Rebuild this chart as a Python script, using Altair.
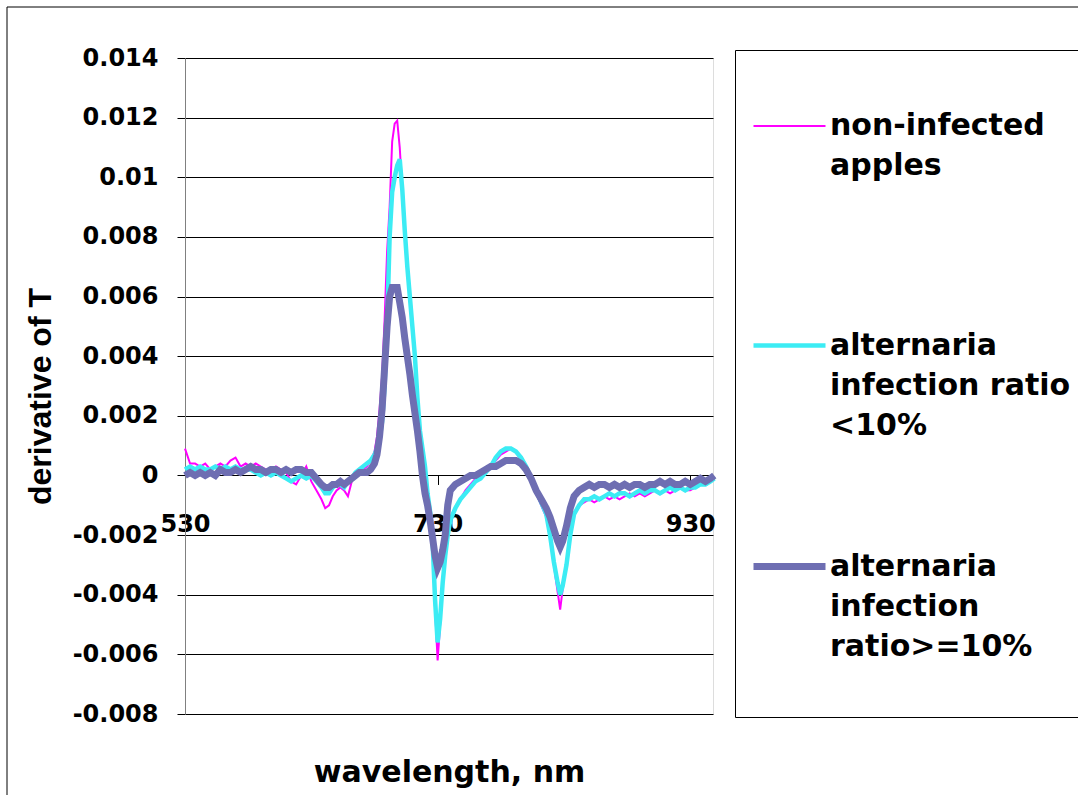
import altair as alt
import pandas as pd

# Wavelength samples (nm) shared by the three spectra
wavelength = [
    530, 534, 538, 542, 546, 550, 554, 558, 562, 566, 570, 574, 578, 582,
    586, 590, 594, 598, 602, 606, 610, 614, 618, 622, 626, 630, 634, 638,
    641, 644, 647, 650, 653, 656, 659, 662, 665, 668, 671, 674, 677, 680,
    682, 684, 686, 688, 690, 692, 694, 696, 698, 700, 702, 704, 706, 708,
    710, 712, 714, 716, 718, 720, 722, 724, 726, 728, 730, 732, 734, 736,
    738, 740,
    744, 748, 752, 756, 760, 764, 768, 772, 776, 780, 784, 788, 792, 796,
    800, 804, 808, 812, 816,
    819, 822, 825, 827, 829, 832, 835, 838, 842,
    846, 850, 854, 858, 862, 866, 870, 874, 878, 882, 886, 890, 894, 898,
    902, 906, 910, 914, 918, 922, 926, 930, 934, 938, 942, 946, 949,
]

# First derivative of transmittance, non-infected apples
non_infected = [
    0.0009, 0.0004, 0.0004, 0.0003, 0.0004, 0.0002, 0.0003, 0.0004, 0.0003, 0.0005, 0.0006, 0.0003, 0.0004, 0.0003,
    0.0004, 0.0003, 0.0002, 0.0002, 0.0003, 0.0002, 0.0001, -0.0002, -0.0003, 0.0000, 0.0003, -0.0002, -0.0005, -0.0008,
    -0.0011, -0.0010, -0.0007, -0.0005, -0.0004, -0.0005, -0.0007, -0.0002, 0.0000, 0.0001, 0.0002, 0.0003, 0.0005, 0.0008,
    0.0013, 0.0022, 0.0033, 0.0052, 0.0075, 0.0090, 0.0112, 0.0118, 0.0119, 0.0110, 0.0096, 0.0082, 0.0070, 0.0060,
    0.0050, 0.0040, 0.0027, 0.0016, 0.0009, 0.0002, -0.0007, -0.0014, -0.0025, -0.0045, -0.0062, -0.0050, -0.0037, -0.0027,
    -0.0020, -0.0015,
    -0.0011, -0.0008, -0.0005, -0.0003, -0.0001, 0.0000, 0.0002, 0.0003, 0.0005, 0.0007, 0.0008, 0.0009, 0.0008, 0.0005,
    0.0002, -0.0002, -0.0006, -0.0010, -0.0014,
    -0.0021, -0.0030, -0.0039, -0.0045, -0.0038, -0.0030, -0.0020, -0.0013, -0.0010,
    -0.0009, -0.0008, -0.0009, -0.0008, -0.0007, -0.0008, -0.0007, -0.0008, -0.0007, -0.0006, -0.0007, -0.0006, -0.0007, -0.0006,
    -0.0005, -0.0006, -0.0005, -0.0006, -0.0005, -0.0004, -0.0005, -0.0005, -0.0004, -0.0003, -0.0003, -0.0002, -0.0001,
]

# Alternaria infection ratio below 10 %
infection_low = [
    0.0002, 0.0003, 0.0002, 0.0003, 0.0002, 0.0002, 0.0003, 0.0002, 0.0003, 0.0002, 0.0003, 0.0002, 0.0002, 0.0002,
    0.0001, 0.0000, 0.0001, 0.0000, 0.0001, 0.0000, -0.0001, -0.0002, -0.0001, 0.0000, -0.0001, 0.0000, -0.0002, -0.0004,
    -0.0006, -0.0006, -0.0004, -0.0003, -0.0003, -0.0004, -0.0002, -0.0001, 0.0001, 0.0002, 0.0003, 0.0004, 0.0005, 0.0007,
    0.0009, 0.0012, 0.0018, 0.0030, 0.0050, 0.0080, 0.0095, 0.0100, 0.0104, 0.0106, 0.0096, 0.0082, 0.0070, 0.0060,
    0.0050, 0.0040, 0.0026, 0.0015, 0.0009, 0.0003, -0.0006, -0.0012, -0.0022, -0.0042, -0.0056, -0.0048, -0.0036, -0.0027,
    -0.0020, -0.0015,
    -0.0011, -0.0008, -0.0006, -0.0004, -0.0002, -0.0001, 0.0001, 0.0003, 0.0006, 0.0008, 0.0009, 0.0009, 0.0008, 0.0006,
    0.0003, -0.0001, -0.0005, -0.0009, -0.0013,
    -0.0020, -0.0029, -0.0036, -0.0040, -0.0037, -0.0030, -0.0020, -0.0013, -0.0010,
    -0.0008, -0.0008, -0.0007, -0.0008, -0.0007, -0.0006, -0.0007, -0.0006, -0.0006, -0.0007, -0.0006, -0.0005, -0.0006, -0.0005,
    -0.0005, -0.0006, -0.0005, -0.0004, -0.0005, -0.0004, -0.0005, -0.0004, -0.0004, -0.0003, -0.0003, -0.0002, -0.0001,
]

# Alternaria infection ratio of 10 % or more
infection_high = [
    0.0000, 0.0001, 0.0000, 0.0001, 0.0000, 0.0001, 0.0000, 0.0002, 0.0001, 0.0001, 0.0002, 0.0001, 0.0002, 0.0003,
    0.0002, 0.0002, 0.0001, 0.0002, 0.0002, 0.0001, 0.0002, 0.0001, 0.0002, 0.0002, 0.0001, 0.0001, -0.0001, -0.0003,
    -0.0004, -0.0004, -0.0003, -0.0003, -0.0002, -0.0003, -0.0002, -0.0001, 0.0000, 0.0001, 0.0001, 0.0001, 0.0002, 0.0004,
    0.0007, 0.0013, 0.0022, 0.0036, 0.0050, 0.0060, 0.0063, 0.0063, 0.0063, 0.0058, 0.0053, 0.0046, 0.0040, 0.0034,
    0.0027, 0.0021, 0.0015, 0.0008, 0.0000, -0.0006, -0.0010, -0.0015, -0.0021, -0.0027, -0.0031, -0.0029, -0.0025, -0.0020,
    -0.0010, -0.0005,
    -0.0003, -0.0002, -0.0001, 0.0000, 0.0000, 0.0001, 0.0002, 0.0003, 0.0003, 0.0004, 0.0005, 0.0005, 0.0005, 0.0004,
    0.0002, -0.0001, -0.0005, -0.0008, -0.0011,
    -0.0014, -0.0018, -0.0022, -0.0024, -0.0022, -0.0017, -0.0011, -0.0007, -0.0005,
    -0.0004, -0.0003, -0.0004, -0.0003, -0.0003, -0.0004, -0.0003, -0.0004, -0.0003, -0.0004, -0.0003, -0.0003, -0.0004, -0.0003,
    -0.0003, -0.0002, -0.0003, -0.0002, -0.0003, -0.0003, -0.0002, -0.0003, -0.0002, -0.0001, -0.0002, -0.0001, 0.0000,
]

series_names = [
    "non-infected\napples",
    "alternaria\ninfection ratio\n<10%",
    "alternaria\ninfection\nratio>=10%",
]
series_colors = ["#FF00FF", "#3CECF4", "#6E6EB2"]
series_widths = [2, 7, 8]

y_ticks = [-0.008, -0.006, -0.004, -0.002, 0, 0.002, 0.004, 0.006, 0.008, 0.010, 0.012, 0.014]
x_ticks = [530, 730, 930]

y_min, y_max = -0.008, 0.014
x_min, x_max = 530, 948
plot_w, plot_h = 528, 656
zero_px = plot_h * y_max / (y_max - y_min)   # pixel row of the zero line

frames = []
for name, vals in zip(series_names, [non_infected, infection_low, infection_high]):
    assert len(vals) == len(wavelength)
    frames.append(pd.DataFrame({"wavelength": wavelength, "dT": vals, "series": name}))
df = pd.concat(frames, ignore_index=True)

bold_font = "DejaVu Sans"

# entries are padded with blank lines so that every row gets the same height
legend = alt.Legend(
    orient="none", legendX=550, legendY=-8, direction="vertical",
    title=" ", titleFontSize=20, titlePadding=4,
    symbolType="stroke", symbolSize=5184,
    labelFont=bold_font, labelFontSize=30, labelFontWeight="bold", labelColor="black",
    labelExpr="split(datum.label + (datum.index == 1 ? '' : '\\n '), '\\n')",
    labelLimit=600, labelOffset=1,
    strokeColor="black", fillColor="white", padding=15, rowPadding=86,
)

x_enc = alt.X(
    "wavelength:Q",
    scale=alt.Scale(domain=[x_min, x_max], nice=False, zero=False),
    axis=alt.Axis(
        values=x_ticks, grid=False, domain=False, offset=-(plot_h - zero_px),
        tickSize=9, tickColor="black", labelFont=bold_font, labelFontSize=24,
        labelFontWeight="bold", labelColor="black", labelPadding=28,
        labelFlush=False, labelOverlap=False,
        title="wavelength, nm", titleFont=bold_font, titleFontSize=30,
        titleFontWeight="bold", titleColor="black", titleBaseline="middle",
        titleY=plot_h + 58 - zero_px,
    ),
)
y_enc = alt.Y(
    "dT:Q",
    scale=alt.Scale(domain=[y_min, y_max], nice=False, zero=False),
    axis=alt.Axis(
        values=y_ticks, grid=True, gridColor="black", gridOpacity=1, gridWidth=1,
        domainColor="#808080", tickColor="black", tickSize=8, labelPadding=19,
        labelExpr="replace(format(datum.value, '.3~f'), '\u2212', '-')",
        labelFont=bold_font, labelFontSize=24, labelFontWeight="bold", labelColor="black",
        title="derivative of T", titleFont="Liberation Sans", titleFontSize=32,
        titleFontWeight="bold", titleColor="black", titleAngle=270,
        titleAlign="center", titleBaseline="middle", titleX=-145, titleY=plot_h / 2 + 10,
    ),
)
color_enc = alt.Color("series:N", scale=alt.Scale(domain=series_names, range=series_colors), legend=legend)
width_enc = alt.StrokeWidth("series:N", scale=alt.Scale(domain=series_names, range=series_widths), legend=legend)

layers = []
for name in series_names:
    layers.append(
        alt.Chart(df)
        .transform_filter(alt.datum.series == name)
        .mark_line(interpolate="linear")
        .encode(x=x_enc, y=y_enc, color=color_enc, strokeWidth=width_enc, order="wavelength:Q")
    )

# outer chart frame (left and top edges)
frame_left = alt.Chart(alt.Data(values=[{}])).mark_rule(color="black", strokeWidth=1).encode(
    x=alt.value(-178), y=alt.value(-51), y2=alt.value(plot_h + 100)
)
frame_top = alt.Chart(alt.Data(values=[{}])).mark_rule(color="black", strokeWidth=1).encode(
    x=alt.value(-178), x2=alt.value(plot_w + 400), y=alt.value(-51)
)

chart = (
    alt.layer(*layers, frame_left, frame_top)
    .properties(
        width=plot_w, height=plot_h,
        autosize=alt.AutoSizeParams(type="none"),
        padding={"left": 185, "top": 58, "right": 365, "bottom": 81},
        background="white",
    )
    .configure_view(stroke="#808080", strokeWidth=1)
    .configure(style={"guide-label": {"lineHeight": 40}})
)

chart.save("out.html", embed_options={"renderer": "svg", "actions": False})
